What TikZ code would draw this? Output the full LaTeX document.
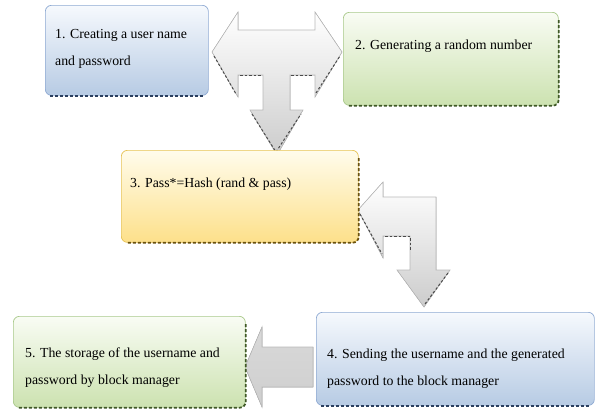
\documentclass[tikz,border=0pt]{standalone}
\usepackage{fontspec}
\setmainfont{Liberation Serif}
\usetikzlibrary{positioning}
\definecolor{bluetop}{HTML}{F6F9FD}
\definecolor{bluebot}{HTML}{B7CBE4}
\definecolor{blueline}{HTML}{8FAAD3}
\definecolor{bluedash}{HTML}{2A3F60}
\definecolor{greentop}{HTML}{F9FCF4}
\definecolor{greenbot}{HTML}{CCE2B0}
\definecolor{greenline}{HTML}{A9C98B}
\definecolor{greendash}{HTML}{3F5826}
\definecolor{yellowtop}{HTML}{FFFCEC}
\definecolor{yellowbot}{HTML}{FDE08A}
\definecolor{yellowline}{HTML}{E7C253}
\definecolor{yellowdash}{HTML}{6A5210}
\definecolor{arrowline}{HTML}{B9B9B9}
\definecolor{arrowdash}{HTML}{4A4A4A}
\tikzset{
 stage/.style={rectangle, rounded corners=6pt, anchor=north west, inner sep=0pt, line width=0.7pt},
 bluebox/.style={stage, draw=blueline, top color=bluetop, bottom color=bluebot},
 greenbox/.style={stage, draw=greenline, top color=greentop, bottom color=greenbot},
 yellowbox/.style={stage, draw=yellowline, top color=yellowtop, bottom color=yellowbot},
 stagetext/.style={anchor=north west, inner sep=0pt, align=left, font=\fontsize{13.8}{27}\selectfont, text=black},
 edgedash/.style={dash pattern=on 3pt off 2pt, line width=1.7pt, rounded corners=6pt},
 blockarrow/.style={draw=arrowline, line width=0.6pt, top color=white, bottom color=gray!40},
 arrowshade/.style={dash pattern=on 2.5pt off 2pt, line width=1pt, draw=arrowdash},
}
\begin{document}
\begin{tikzpicture}[x=1pt, y=-1pt]
\useasboundingbox (0,0) rectangle (595,410);
\filldraw[blockarrow] (212,52) -- (238,12) -- (238,30) -- (315,30) -- (315,12) -- (342,52) -- (315,97) -- (315,75)
 -- (290,75) -- (290,110) -- (303,110) -- (277,155) -- (250,110) -- (263,110) -- (263,75) -- (238,75) -- (238,97) -- cycle;
\draw[arrowshade] (214,56) -- (236,94);
\draw[arrowshade] (240,75) -- (262,75);
\draw[arrowshade] (291,75) -- (313,75);
\draw[arrowshade] (316,93) -- (340,56);
\draw[arrowshade] (252,114) -- (276,152) -- (301,114);
\filldraw[blockarrow] (358,210) -- (383,182) -- (383,197) -- (436,197) -- (436,270) -- (450,270) -- (424,307)
 -- (397,270) -- (410,270) -- (410,236) -- (383,236) -- (383,258) -- cycle;
\draw[arrowshade] (360,214) -- (382,254);
\draw[arrowshade] (385,236) -- (410,236) -- (410,250);
\draw[arrowshade] (448,273) -- (425,304);
\filldraw[draw=gray!55, line width=0.6pt, top color=gray!30, bottom color=gray!38] (245,367) -- (262,327) -- (262,347)
 -- (313,347) -- (313,387) -- (262,387) -- (262,407) -- cycle;
\node[bluebox, minimum width=163pt, minimum height=90pt] (b1) at (45,5) {};
\node[greenbox, minimum width=215pt, minimum height=93pt] (b2) at (343,12) {};
\node[yellowbox, minimum width=237pt, minimum height=92pt] (b3) at (121,150) {};
\node[bluebox, minimum width=278pt, minimum height=93pt] (b4) at (316,312) {};
\node[greenbox, minimum width=232pt, minimum height=91pt] (b5) at (13,316) {};
\draw[edgedash, bluedash] ([xshift=5pt]b1.south west) -- ([xshift=-5pt]b1.south east);
\draw[edgedash, greendash] ([yshift=-8pt]b2.north east) -- (b2.south east) -- ([xshift=5pt]b2.south west);
\draw[edgedash, yellowdash] ([yshift=-8pt]b3.north east) -- (b3.south east) -- ([xshift=5pt]b3.south west);
\draw[edgedash, bluedash] ([xshift=5pt]b4.south west) -- ([xshift=-5pt]b4.south east);
\draw[edgedash, greendash] ([yshift=-8pt]b5.north east) -- (b5.south east) -- ([xshift=5pt]b5.south west);
\node[stagetext, below right=24pt and 10pt of b1.north west] (t1) {1. Creating a user name\\and password};
\node[stagetext, below right=28pt and 12pt of b2.north west] (t2) {2. Generating a random number};
\node[stagetext, below right=28pt and 9pt of b3.north west] (t3) {3. Pass*=Hash (rand \& pass)};
\node[stagetext, below right=37pt and 11pt of b4.north west] (t4) {4. Sending the username and the generated\\password to the block manager};
\node[stagetext, below right=32pt and 12pt of b5.north west] (t5) {5. The storage of the username and\\password by block manager};
\end{tikzpicture}
\end{document}
